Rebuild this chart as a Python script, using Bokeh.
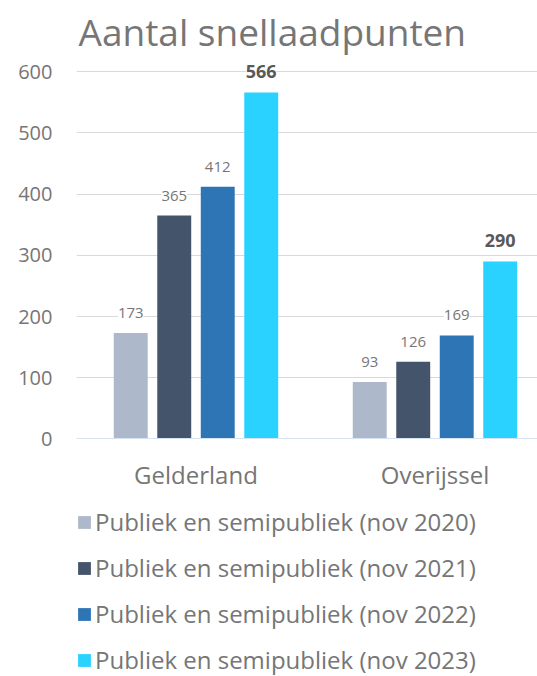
from bokeh.plotting import figure
from bokeh.models import ColumnDataSource, Range1d, FixedTicker, LabelSet, Legend, LegendItem
from bokeh.core.properties import value
from bokeh.embed import file_html
from bokeh.resources import INLINE

categories = ["Gelderland", "Overijssel"]
series_names = [
    "Publiek en semipubliek (nov 2020)",
    "Publiek en semipubliek (nov 2021)",
    "Publiek en semipubliek (nov 2022)",
    "Publiek en semipubliek (nov 2023)",
]
values_2020 = [173, 93]
values_2021 = [365, 126]
values_2022 = [412, 169]
values_2023 = [566, 290]
series_values = [values_2020, values_2021, values_2022, values_2023]
colors = ["#adb9ca", "#44546a", "#2e75b6", "#29d2ff"]
y_ticks = [0, 100, 200, 300, 400, 500, 600]

FONT = "Open Sans"
GRAY = "#767676"

# frame extends below the value axis so the legend can sit inside it
p = figure(width=537, height=676, output_backend="svg", toolbar_location=None,
           x_range=Range1d(0, 1.929), y_range=Range1d(-388.3, 620),
           min_border_left=76, min_border_right=0, min_border_top=58,
           min_border_bottom=0,
           title="Aantal snellaadpunten")
p.title.text_font = FONT
p.title.text_font_size = "37px"
p.title.text_font_style = "normal"
p.title.text_color = GRAY
p.title.align = "left"
p.title.offset = 2
p.title.standoff = 6
p.outline_line_color = None
p.background_fill_color = "white"
p.border_fill_color = "white"

offsets = [-0.273, -0.091, 0.091, 0.273]
bar_w = 0.142
items = []
for i, (name, vals, col) in enumerate(zip(series_names, series_values, colors)):
    xs = [j + 0.5 + offsets[i] for j in range(len(categories))]
    src = ColumnDataSource(dict(x=xs, top=vals, label=[str(v) for v in vals]))
    r = p.vbar(x="x", top="top", width=bar_w, source=src, fill_color=col, line_color=None)
    items.append(LegendItem(label=name, renderers=[r]))
    bold = (i == 3)
    lbl = LabelSet(x="x", y="top", text="label", source=src,
                   text_align="center", text_baseline="middle",
                   y_offset=21 if bold else 20,
                   text_font=value(FONT), text_font_size=value("18px" if bold else "15px"),
                   text_font_style="bold" if bold else "normal",
                   text_color="#595959" if bold else GRAY,
                   background_fill_color="white")
    p.add_layout(lbl)

p.xgrid.visible = False
p.ygrid.ticker = FixedTicker(ticks=y_ticks)
p.ygrid.grid_line_color = "#d9d9d9"
p.ygrid.grid_line_width = 1

p.yaxis.ticker = FixedTicker(ticks=y_ticks)
p.yaxis.axis_line_color = None
p.yaxis.major_tick_line_color = None
p.yaxis.minor_tick_line_color = None
p.yaxis.major_label_text_font = FONT
p.yaxis.major_label_text_font_size = "20px"
p.yaxis.major_label_text_color = GRAY
p.yaxis.major_label_standoff = 18

p.xaxis.fixed_location = 0
p.xaxis.ticker = FixedTicker(ticks=[0.5, 1.5])
p.xaxis.major_label_overrides = {0.5: categories[0], 1.5: categories[1]}
p.xaxis.axis_line_color = "#d6e4f2"
p.xaxis.axis_line_width = 1
p.xaxis.major_tick_line_color = None
p.xaxis.minor_tick_line_color = None
p.xaxis.major_tick_out = 0
p.xaxis.major_tick_in = 0
p.xaxis.major_label_text_font = FONT
p.xaxis.major_label_text_font_size = "24px"
p.xaxis.major_label_text_color = GRAY
p.xaxis.major_label_standoff = 19

legend = Legend(items=items, location=(0, 0), orientation="vertical")
legend.label_text_font = FONT
legend.label_text_font_size = "24px"
legend.label_text_color = GRAY
legend.label_height = 26
legend.glyph_width = 16
legend.glyph_height = 16
legend.label_standoff = 3
legend.spacing = 13
legend.padding = 0
legend.margin = 0
legend.border_line_color = None
legend.background_fill_alpha = 0
p.add_layout(legend)

open("out.html", "w").write(file_html(p, INLINE))
